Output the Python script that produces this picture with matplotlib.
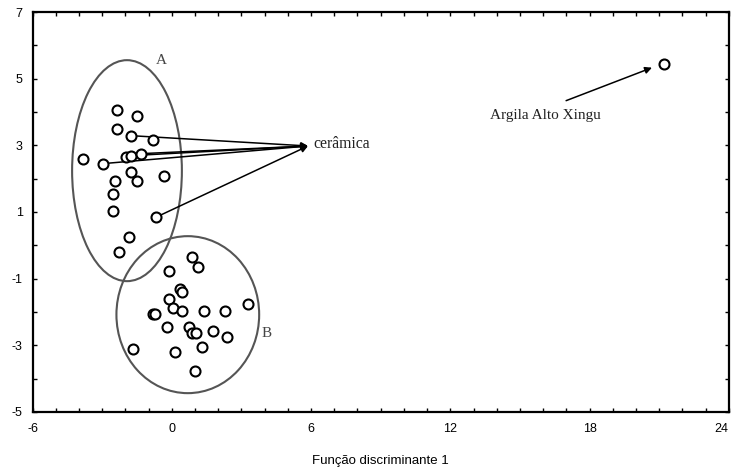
import matplotlib
matplotlib.use("Agg")
import matplotlib.pyplot as plt
from matplotlib.patches import Ellipse
from matplotlib.ticker import MultipleLocator

plt.rcParams["axes.unicode_minus"] = False

# Group A samples (discriminant function 1, 2)
a_x = [-2.38, -1.48, -2.34, -1.76, -0.80, -3.84, -2.98, -1.98, -1.76, -1.33,
       -1.76, -2.45, -1.48, -0.33, -2.55, -2.55, -0.69, -1.84, -2.27]
a_y = [4.05, 3.89, 3.50, 3.29, 3.15, 2.60, 2.45, 2.64, 2.69, 2.75,
       2.19, 1.94, 1.94, 2.09, 1.55, 1.04, 0.84, 0.24, -0.21]

# Group B samples
b_x = [0.85, 1.11, -0.12, 0.34, 0.42, -0.12, 0.06, 0.42, -0.80, -0.73,
       1.39, 2.28, 3.28, -0.19, 0.74, 0.89, 1.06, 1.78, 2.40, 1.32,
       -1.69, 0.13, 0.99]
b_y = [-0.36, -0.66, -0.76, -1.30, -1.41, -1.60, -1.87, -1.96, -2.05, -2.05,
       -1.96, -1.96, -1.75, -2.46, -2.46, -2.62, -2.62, -2.56, -2.76, -3.06,
       -3.10, -3.21, -3.76]

# Argila Alto Xingu
clay_x = [21.2]
clay_y = [5.45]

# Ceramic samples pointed to by arrows (indices into group A)
ceramic_idx = [3, 6, 8, 9, 16]

# Group ellipses: centre x, centre y, width, height
ell_a = [-1.93, 2.24, 4.73, 6.63]
ell_b = [0.69, -2.08, 6.15, 4.71]

x_ticks = [-6, 0, 6, 12, 18, 24]
y_ticks = [-5, -3, -1, 1, 3, 5, 7]

fig = plt.figure(figsize=(7.31, 4.67), dpi=100)
ax = fig.add_axes([0.0445, 0.1178, 0.9525, 0.8565])

ax.set_xlim(-6, 24)
ax.set_ylim(-5, 7)

for e in (ell_a, ell_b):
    ax.add_patch(Ellipse((e[0], e[1]), e[2], e[3], fill=False,
                         edgecolor="#555555", linewidth=1.5, zorder=2))

mk = dict(marker="o", markersize=7.2, markerfacecolor="white",
          markeredgecolor="black", markeredgewidth=1.5, linestyle="none", zorder=4)
ax.plot(a_x, a_y, **mk)
ax.plot(b_x, b_y, **mk)
ax.plot(clay_x, clay_y, **mk)

serif = "Liberation Serif"
cer_tip = (5.87, 2.98)
for i in ceramic_idx:
    ax.annotate("", xy=cer_tip, xytext=(a_x[i], a_y[i]),
                arrowprops=dict(arrowstyle="-|>", color="black", lw=1.1,
                                shrinkA=4, shrinkB=0, mutation_scale=10),
                zorder=3)
ax.text(6.1, 3.05, "cerâmica", family=serif, fontsize=11.3,
        ha="left", va="center", color="#222222")

ax.annotate("", xy=(20.69, 5.33), xytext=(16.99, 4.34),
            arrowprops=dict(arrowstyle="-|>", color="black", lw=1.1,
                            shrinkA=0, shrinkB=0, mutation_scale=10))
ax.text(16.09, 3.9, "Argila Alto Xingu", family=serif, fontsize=11,
        ha="center", va="center", color="#222222")

ax.text(-0.47, 5.54, "A", family=serif, fontsize=11, ha="center",
        va="center", color="#444444")
ax.text(4.09, -2.65, "B", family=serif, fontsize=11, ha="center",
        va="center", color="#444444")

ax.set_xticks(x_ticks)
ax.set_yticks(y_ticks)
ax.xaxis.set_minor_locator(MultipleLocator(1))
ax.yaxis.set_minor_locator(MultipleLocator(1))
ax.tick_params(which="both", direction="in", top=True, right=True,
               length=3, width=1.0, labelsize=9, labelfontfamily="Liberation Sans")
ax.tick_params(axis="x", pad=8)
ax.tick_params(axis="y", pad=7)
for s in ax.spines.values():
    s.set_linewidth(1.6)
# keep the last x tick label inside the figure
ax.get_xticklabels()[-1].set_horizontalalignment("right")

ax.set_xlabel("Função discriminante 1", family="Liberation Sans",
              fontsize=9.5, labelpad=14)

fig.savefig("out.png", dpi=100)
